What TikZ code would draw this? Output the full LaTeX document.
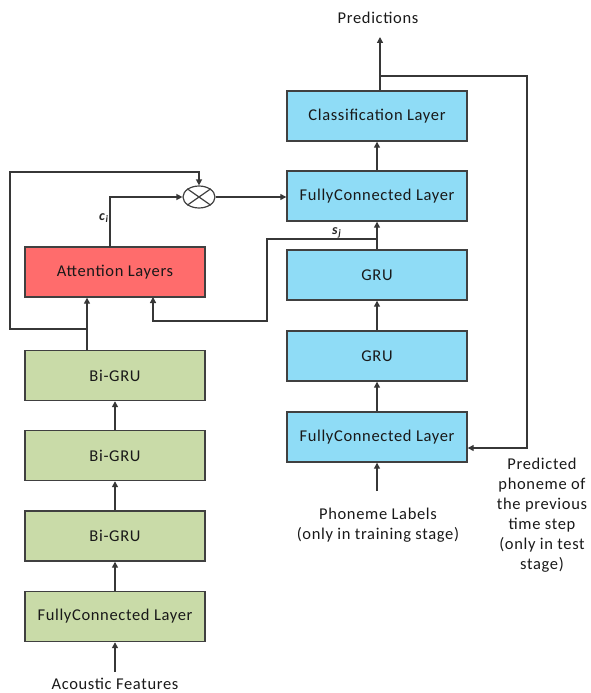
\documentclass[tikz,border=0pt]{standalone}
\usepackage{fontspec}
\setmainfont{Carlito}[LetterSpace=4]
\usetikzlibrary{arrows.meta,shapes.geometric}
\definecolor{greenbox}{RGB}{201,219,168}
\definecolor{bluebox}{RGB}{143,220,246}
\definecolor{redbox}{RGB}{255,108,108}
\definecolor{edge}{RGB}{64,64,64}
\definecolor{wire}{RGB}{55,55,55}
\tikzset{
  layer/.style={draw=edge, line width=1.4pt, minimum width=180pt, minimum height=50pt,
    inner sep=0pt, font=\fontsize{16.5}{20}\selectfont, text=black!90},
  glayer/.style={layer, fill=greenbox},
  blayer/.style={layer, fill=bluebox},
  rlayer/.style={layer, fill=redbox},
  conn/.style={draw=wire, line width=1.3pt, -{Triangle[length=6pt,width=6pt]}},
  caption/.style={font=\fontsize{16.5}{20}\selectfont, text=black!90, align=center, inner sep=0pt},
  sym/.style={font=\fontsize{14}{16}\selectfont\bfseries, text=black!85, inner sep=0pt}
}
\begin{document}
\begin{tikzpicture}[x=1pt, y=-1pt]
\useasboundingbox (0,0) rectangle (590,693);

% encoder column
\node[glayer] (fcL) at (115,616.5) {FullyConnected Layer};
\node[glayer] (bg3) at (115,536) {Bi-GRU};
\node[glayer] (bg2) at (115,455.5) {Bi-GRU};
\node[glayer] (bg1) at (115,375.5) {Bi-GRU};
\node[rlayer] (att) at (115,272) {Attention Layers};

% decoder column
\node[blayer] (fcR) at (377,437) {FullyConnected Layer};
\node[blayer] (gru2) at (377,356) {GRU};
\node[blayer] (gru1) at (377,275) {GRU};
\node[blayer] (fcT) at (377,196) {FullyConnected Layer};
\node[blayer] (cls) at (377,116) {Classification Layer};

% multiplication
\node[draw=edge, line width=1.2pt, fill=white, ellipse, minimum width=32pt, minimum height=22pt, inner sep=0pt] (mult) at (199,197) {};
\draw[draw=edge, line width=1.2pt] (mult.north west) -- (mult.south east) (mult.north east) -- (mult.south west);

% captions
\node[caption] (acou) at (115,683.5) {Acoustic Features};
\node[caption] (phon) at (378,525) {Phoneme Labels\\(only in training stage)};
\node[caption] (prev) at (542,515) {Predicted\\phoneme of\\the previous\\time step\\(only in test\\stage)};
\node[caption] (pred) at (378,18) {Predictions};
\node[sym, anchor=east] (ci) at (109,218) {\textit{c}\textsubscript{\textit{i}}};
\node[sym] (sj) at (337,233) {\textit{s}\textsubscript{\textit{j}}};

% helper points
\coordinate (inA) at (115,672);
\coordinate (inP) at (377,491);
\coordinate (top) at (380,37);
\coordinate (fb) at (380,76);
\coordinate (br) at (87,329);
\coordinate (sjx) at (377,239);

% encoder flow
\draw[conn] (inA) -- (fcL.south);
\draw[conn] (fcL.north) -- (bg3.south);
\draw[conn] (bg3.north) -- (bg2.south);
\draw[conn] (bg2.north) -- (bg1.south);
\draw[conn] (bg1.north -| br) -- (br |- att.south);
\draw[conn] (br) -| (10,172) -| (mult.north);
\draw[conn] (110,247) |- (mult.west);
\draw[conn] (mult.east) -- (fcT.west |- mult.east);

% decoder flow
\draw[conn] (inP) -- (fcR.south);
\draw[conn] (fcR.north) -- (gru2.south);
\draw[conn] (gru2.north) -- (gru1.south);
\draw[conn] (gru1.north) -- (fcT.south);
\draw[conn] (fcT.north) -- (cls.south);
\draw[conn] (fb |- cls.north) -- (top);
\draw[conn] (fb) -| (527,448) -- (fcR.east |- 0,448);
\draw[conn] (sjx) -| (267,321) -| (153,297);
\end{tikzpicture}
\end{document}
